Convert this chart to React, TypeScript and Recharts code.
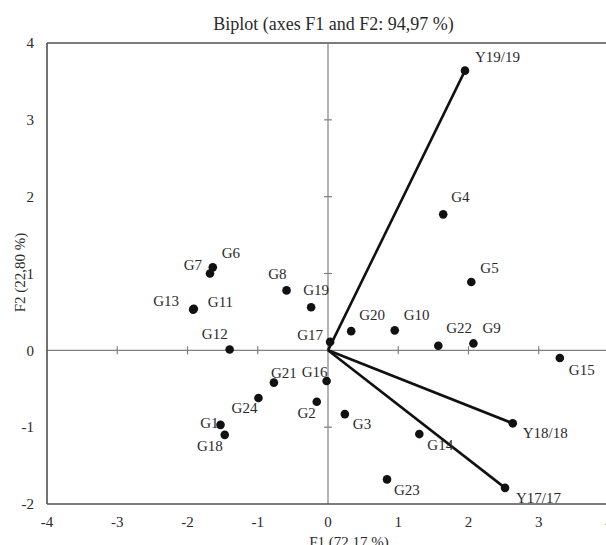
import { ScatterChart, Scatter, XAxis, YAxis, ReferenceLine } from "recharts";

// PCA biplot scores (F1, F2) for the genotypes
const GENOTYPES = [
  "G1", "G2", "G3", "G4", "G5", "G6", "G7", "G8", "G9", "G10", "G11", "G12",
  "G13", "G14", "G15", "G16", "G17", "G18", "G19", "G20", "G21", "G22", "G23", "G24",
];
const G_F1 = [
  -1.53, -0.16, 0.24, 1.64, 2.04, -1.64, -1.68, -0.59, 2.07, 0.95, -1.91, -1.4,
  -1.92, 1.3, 3.3, -0.02, 0.03, -1.47, -0.24, 0.33, -0.77, 1.57, 0.84, -0.99,
];
const G_F2 = [
  -0.97, -0.67, -0.83, 1.77, 0.89, 1.08, 1.0, 0.78, 0.09, 0.26, 0.54, 0.01,
  0.53, -1.09, -0.1, -0.4, 0.11, -1.1, 0.56, 0.25, -0.42, 0.06, -1.68, -0.62,
];

// variable loadings (vectors from origin)
const VARIABLES = ["Y19/19", "Y18/18", "Y17/17"];
const V_F1 = [1.95, 2.63, 2.52];
const V_F2 = [3.64, -0.95, -1.79];

const X_TICKS = [-4, -3, -2, -1, 0, 1, 2, 3, 4];
const Y_TICKS = [-2, -1, 0, 1, 2, 3, 4];

const FONT = "'Liberation Serif', 'Times New Roman', serif";
const TEXT = "#2a2a2a";
const FRAME = "#505050";
const AXIS = "#808080";

// label placement around each dot: [dx, dy, anchor]
const LABEL_POS: Record<string, [number, number, string]> = {
  "Y19/19": [10, -14, "start"],
  "Y18/18": [10, 10, "start"],
  "Y17/17": [11, 10, "start"],
  G1: [-2, -2, "end"],
  G2: [-1, 11, "end"],
  G3: [8, 10, "start"],
  G4: [8, -17, "start"],
  G5: [9, -14, "start"],
  G6: [9, -14, "start"],
  G7: [-8, -9, "end"],
  G8: [0, -16, "end"],
  G9: [9, -15, "start"],
  G10: [9, -15, "start"],
  G11: [14, -7, "start"],
  G12: [-2, -16, "end"],
  G13: [-14, -9, "end"],
  G14: [8, 11, "start"],
  G15: [9, 12, "start"],
  G16: [1, -9, "end"],
  G17: [-7, -7, "end"],
  G18: [-2, 11, "end"],
  G19: [-8, -17, "start"],
  G20: [8, -16, "start"],
  G21: [-3, -10, "start"],
  G22: [8, -18, "start"],
  G23: [7, 11, "start"],
  G24: [-1, 10, "end"],
};

const genoData = GENOTYPES.map((name, i) => ({ name, x: G_F1[i], y: G_F2[i] }));
const varData = VARIABLES.map((name, i) => ({ name, x: V_F1[i], y: V_F2[i] }));
const xTickData = X_TICKS.filter((t) => t !== 0 && t !== -4 && t !== 4).map((t) => ({ x: t, y: 0 }));
const yTickData = Y_TICKS.filter((t) => t !== 0 && t !== -2 && t !== 4).map((t) => ({ x: 0, y: t }));

const LabeledDot = (props: any) => {
  const { cx, cy, payload } = props;
  const pos = LABEL_POS[payload.name] || [8, -12, "start"];
  return (
    <g>
      <circle cx={cx} cy={cy} r={4.3} fill="#111" />
      <text
        x={cx + pos[0]}
        y={cy + pos[1]}
        textAnchor={pos[2] as any}
        dominantBaseline="central"
        fontFamily={FONT}
        fontSize={15}
        fill={TEXT}
      >
        {payload.name}
      </text>
    </g>
  );
};

const VTick = (props: any) => (
  <line x1={props.cx} x2={props.cx} y1={props.cy - 4} y2={props.cy + 4} stroke={AXIS} strokeWidth={1.2} />
);
const HTick = (props: any) => (
  <line x1={props.cx - 4} x2={props.cx + 4} y1={props.cy} y2={props.cy} stroke={AXIS} strokeWidth={1.2} />
);

export default function App() {
  return (
    <div style={{ position: "absolute", left: 0, top: 0, width: 606, height: 545, overflow: "hidden", background: "#fff" }}>
      <ScatterChart width={620} height={545} margin={{ top: 43, right: 11, bottom: 11, left: 0 }}>
        <XAxis
          type="number"
          dataKey="x"
          domain={[-4, 4]}
          ticks={X_TICKS}
          allowDataOverflow
          height={30}
          tickLine={false}
          tickSize={0}
          tickMargin={12}
          axisLine={{ stroke: FRAME, strokeWidth: 1.6 }}
          tick={{ fill: TEXT, fontSize: 15, fontFamily: FONT }}
        />
        <YAxis
          type="number"
          dataKey="y"
          domain={[-2, 4]}
          ticks={Y_TICKS}
          allowDataOverflow
          width={47}
          tickLine={false}
          tickSize={0}
          tickMargin={13}
          axisLine={{ stroke: FRAME, strokeWidth: 1.6 }}
          tick={{ fill: TEXT, fontSize: 15, fontFamily: FONT }}
        />
        <ReferenceLine y={4} stroke={FRAME} strokeWidth={1.6} />
        <ReferenceLine x={4} stroke={FRAME} strokeWidth={1.6} />
        <ReferenceLine x={0} stroke={AXIS} strokeWidth={1.2} />
        <ReferenceLine y={0} stroke={AXIS} strokeWidth={1.2} />
        <Scatter data={xTickData} shape={VTick} isAnimationActive={false} />
        <Scatter data={yTickData} shape={HTick} isAnimationActive={false} />
        {varData.map((v) => (
          <ReferenceLine
            key={v.name}
            segment={[{ x: 0, y: 0 }, { x: v.x, y: v.y }]}
            stroke="#111"
            strokeWidth={2.6}
          />
        ))}
        <Scatter data={varData} shape={LabeledDot} isAnimationActive={false} />
        <Scatter data={genoData} shape={LabeledDot} isAnimationActive={false} />
      </ScatterChart>
      <svg width={606} height={545} style={{ position: "absolute", left: 0, top: 0, pointerEvents: "none" }}>
        <text x={333.5} y={30} textAnchor="middle" fontFamily={FONT} fontSize={18} fill={TEXT}>
          Biplot (axes F1 and F2: 94,97 %)
        </text>
        <text x={349} y={547} textAnchor="middle" fontFamily={FONT} fontSize={15} fill={TEXT}>
          F1 (72,17 %)
        </text>
        <text
          x={20}
          y={272.5}
          textAnchor="middle"
          dominantBaseline="central"
          transform="rotate(-90 20 272.5)"
          fontFamily={FONT}
          fontSize={15}
          fill={TEXT}
        >
          F2 (22,80 %)
        </text>
      </svg>
    </div>
  );
}
